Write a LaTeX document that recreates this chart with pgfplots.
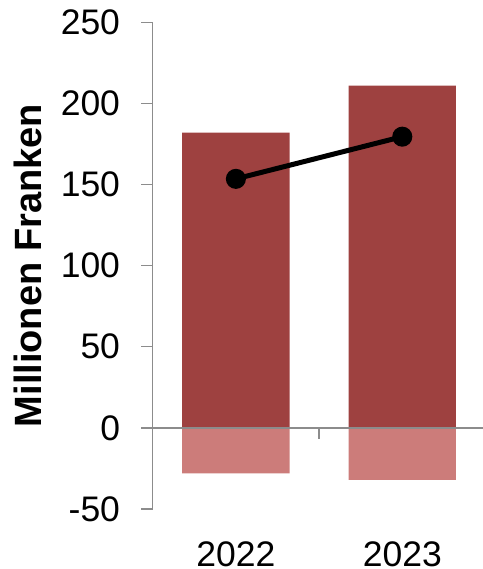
\documentclass[border=0pt]{standalone}
\usepackage{pgfplots}
\pgfplotsset{compat=1.18}
\usepackage{fontspec}
\setmainfont{Liberation Sans}
\definecolor{darkbar}{HTML}{9E4140}
\definecolor{lightbar}{HTML}{CC7C7A}
\definecolor{axgray}{HTML}{8C8C8C}
\begin{document}
\begin{tikzpicture}
\begin{axis}[
  at={(0,0)}, anchor=south west,
  scale only axis,
  width=330.3bp, height=486.7bp,
  xmin=-0.5, xmax=1.485,
  ymin=-50, ymax=250,
  clip=false,
  axis y line*=left,
  axis x line*=bottom,
  x axis line style={draw=none},
  y axis line style={axgray, line width=1.3bp, -},
  ytick={-50,0,50,100,150,200,250},
  yticklabels={-50,0,50,100,150,200,250},
  xtick={0,1},
  xticklabels={2022,2023},
  major x tick style={draw=none},
  major y tick style={axgray, line width=1.3bp},
  tick align=outside,
  major tick length=11.5bp,
  yticklabel style={font=\fontsize{35.5bp}{42bp}\selectfont, inner sep=0pt, anchor=east, xshift=-21bp},
  xticklabel style={font=\fontsize{35.5bp}{42bp}\selectfont, inner sep=0pt, anchor=north, yshift=-21bp},
  ylabel={\textbf{Millionen Franken}},
  ylabel style={font=\fontsize{38bp}{44bp}\selectfont, at={(axis description cs:-0.338,0.5)}, anchor=base},
]
\addplot[ybar, bar width=0.645, bar shift=0pt, fill=darkbar, draw=none] coordinates {(0,182) (1,211)};
\addplot[ybar, bar width=0.645, bar shift=0pt, fill=lightbar, draw=none] coordinates {(0,-28) (1,-32)};
\draw[axgray, line width=1.3bp] (axis cs:-0.5,0) -- (axis cs:1.485,0);
\draw[axgray, line width=1.3bp] (axis cs:0.5,0) -- ++(0pt,-11.5bp);
\addplot[black, line width=5bp, mark=*, mark size=7.5bp, mark options={fill=black}] coordinates {(0,153.5) (1,179.5)};
\end{axis}
\pgfresetboundingbox
\path (-152.7bp,-60bp) rectangle (330.3bp,509bp);
\end{tikzpicture}
\end{document}
